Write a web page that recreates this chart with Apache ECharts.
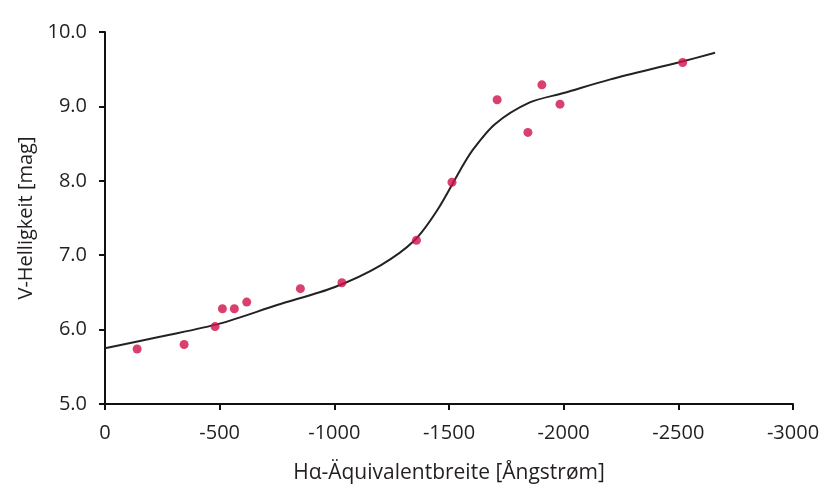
<!DOCTYPE html>
<html>
<head>
<meta charset="utf-8">
<script src="https://cdn.jsdelivr.net/npm/echarts@6/dist/echarts.min.js"></script>
<style>
html,body{margin:0;padding:0;background:#fff;}
#chart{width:827px;height:489px;}
</style>
</head>
<body>
<div id="chart"></div>
<script>
// Measured points: H-alpha equivalent width [Å] vs V magnitude
const ewPoints = [-140, -345, -480, -512, -564, -618, -852, -1033, -1358, -1513, -1710, -1844, -1905, -1984, -2519];
const vMagPoints = [5.74, 5.80, 6.04, 6.28, 6.28, 6.37, 6.55, 6.63, 7.20, 7.98, 9.09, 8.65, 9.29, 9.03, 9.59];

// Fitted curve
const ewCurve = [0, -250, -500, -750, -1000, -1200, -1350, -1450, -1550, -1600, -1700, -1850, -2000, -2200, -2500, -2660];
const vMagCurve = [5.75, 5.91, 6.08, 6.33, 6.57, 6.86, 7.20, 7.61, 8.15, 8.40, 8.76, 9.05, 9.18, 9.36, 9.59, 9.72];

const xTicks = [0, -500, -1000, -1500, -2000, -2500, -3000];
const yTicks = [5.0, 6.0, 7.0, 8.0, 9.0, 10.0];

const xTitle = 'Hα-Äquivalentbreite [Ångstrøm]';
const yTitle = 'V-Helligkeit [mag]';

const font = '"Open Sans", sans-serif';
const txt = '#231f20';

const chart = echarts.init(document.getElementById('chart'), null, {renderer: 'canvas'});
chart.setOption({
  animation: false,
  backgroundColor: '#ffffff',
  grid: {left: 105, right: 34, top: 32, bottom: 81},
  xAxis: {
    type: 'value',
    inverse: true,
    min: xTicks[xTicks.length - 1],
    max: xTicks[0],
    interval: 500,
    name: xTitle,
    nameLocation: 'middle',
    nameGap: 59,
    nameTextStyle: {fontFamily: font, fontSize: 21, color: txt},
    axisLine: {show: true, lineStyle: {color: '#111', width: 2}},
    axisTick: {show: true, length: 6, lineStyle: {color: '#111', width: 2}},
    splitLine: {show: false},
    axisLabel: {fontFamily: font, fontSize: 20, color: txt, margin: 19,
      formatter: v => String(v)}
  },
  yAxis: {
    type: 'value',
    min: yTicks[0],
    max: yTicks[yTicks.length - 1],
    interval: 1,
    name: yTitle,
    nameLocation: 'middle',
    nameGap: 62,
    nameRotate: 90,
    nameTextStyle: {fontFamily: font, fontSize: 20, color: txt},
    axisLine: {show: true, lineStyle: {color: '#111', width: 2}},
    axisTick: {show: true, length: 6, lineStyle: {color: '#111', width: 2}},
    splitLine: {show: false},
    axisLabel: {fontFamily: font, fontSize: 20, color: txt, margin: 18,
      formatter: v => v.toFixed(1)}
  },
  series: [
    {
      type: 'line',
      data: ewCurve.map((x, i) => [x, vMagCurve[i]]),
      smooth: 0.3,
      showSymbol: false,
      symbol: 'none',
      lineStyle: {color: '#222', width: 2},
      z: 2
    },
    {
      type: 'scatter',
      data: ewPoints.map((x, i) => [x, vMagPoints[i]]),
      symbol: 'circle',
      symbolSize: 9,
      itemStyle: {color: '#d0104a'},
      z: 3
    }
  ]
});
</script>
</body>
</html>
